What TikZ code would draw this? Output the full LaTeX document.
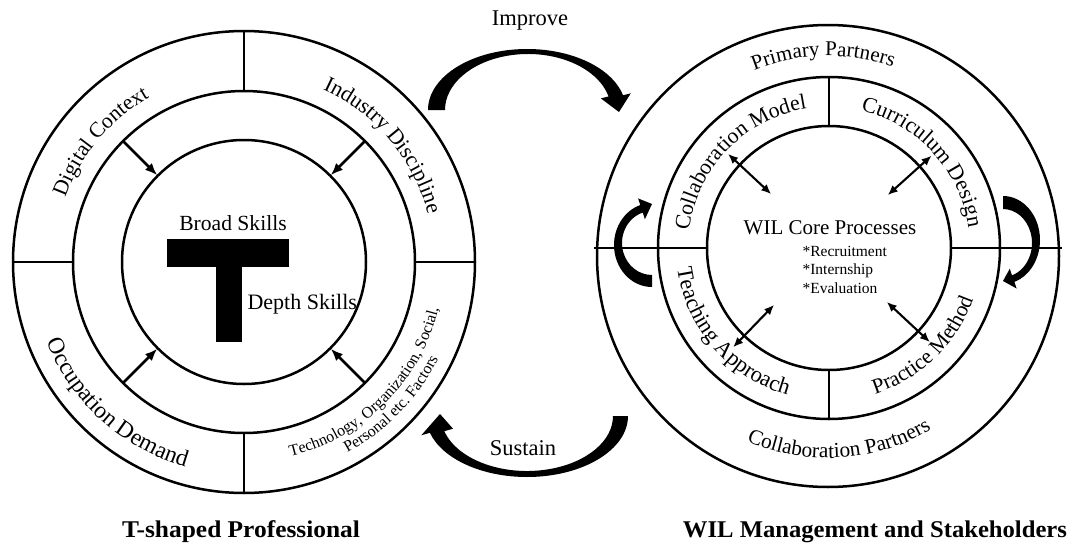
\documentclass[tikz,border=0pt]{standalone}
\usepackage{fontspec}
\setmainfont{Liberation Serif}
\usepackage{graphicx}
\usetikzlibrary{arrows.meta,decorations.text,calc}
\tikzset{
  ring/.style={line width=2.5pt},
  divider/.style={line width=2.3pt},
  inarrow/.style={line width=2.6pt,-{Latex[length=12pt,width=10pt]}},
  duoarrow/.style={line width=2.1pt,{Latex[length=10pt,width=8.5pt]}-{Latex[length=10pt,width=8.5pt]}},
  lbl/.style={font=\fontsize{22}{26}\selectfont},
  small/.style={font=\fontsize{15.5}{18}\selectfont},
  title/.style={font=\fontsize{24}{28}\selectfont\bfseries,anchor=base},
  arctext/.style={decorate,decoration={text along path,text align=center,text={#1}}}
}
\newcommand\crescent[9]{%
  \fill[black] ({#1+#3*cos(#9)},{#2+#4*sin(#9)})
    arc[start angle=#9,end angle=\Tend,x radius=#3,y radius=#4]
    -- ({#1+(#3+\Hov)*cos(\Tend)},{#2+(#4+\Hov)*sin(\Tend)})
    -- (\TipX,\TipY)
    -- ({#5+(#7-\Hov)*cos(\Tend)},{#6+(#8-\Hov)*sin(\Tend)})
    -- ({#5+#7*cos(\Tend)},{#6+#8*sin(\Tend)})
    arc[start angle=\Tend,end angle=#9,x radius=#7,y radius=#8] -- cycle;}
\begin{document}
\begin{tikzpicture}[x=1pt,y=1pt]
\fill[white] (0,0) rectangle (1072,-544);
\useasboundingbox (0,0) rectangle (1072,-544);
\coordinate (L) at (244,-262);
\coordinate (R) at (829,-248);
\coordinate (RO) at (828,-256);

% ---------- left: T-shaped professional ----------
\draw[ring] (L) circle[radius=231];
\draw[ring] (L) circle[radius=171];
\draw[ring] (L) circle[radius=122];
\foreach \a in {0,90,180,270}{
  \coordinate (ld1\a) at ($(L)+(\a:171)$);
  \coordinate (ld2\a) at ($(L)+(\a:231)$);
  \draw[divider] (ld1\a) -- (ld2\a);
}
\foreach \a in {45,135,225,315}{
  \coordinate (ls\a) at ($(L)+(\a:171)$);
  \coordinate (le\a) at ($(L)+(\a:123)$);
  \draw[inarrow] (ls\a) -- (le\a);
}
\fill (167,-239) rectangle (289,-267);
\fill (216,-267) rectangle (242,-342);
\node[font=\fontsize{21.6}{26}\selectfont] (broad) at (233,-223) {Broad Skills};
\node[lbl,anchor=west] (depth) at (244,-304) {Depth Skills};

\path[arctext={|\fontsize{21.6}{26}\selectfont|Digital Context}]
  ($(L)+(190:190)$) arc[start angle=190,end angle=90,radius=190];
\path[arctext={|\fontsize{22}{26}\selectfont|Industry Discipline}]
  ($(L)+(90:190)$) arc[start angle=90,end angle=-10,radius=190];
\path[arctext={|\fontsize{23.5}{26}\selectfont|Occupation Demand}]
  ($(L)+(178:213)$) arc[start angle=178,end angle=278,radius=213];
\path[arctext={|\fontsize{16}{18}\selectfont|Technology, Organization, Social,}]
  ($(L)+(265:200)$) arc[start angle=265,end angle=365,radius=200];
\path[arctext={|\fontsize{16}{18}\selectfont|Personal etc. Factors}]
  ($(L)+(272:217)$) arc[start angle=272,end angle=360,radius=217];

% ---------- right: WIL management ----------
\draw[ring] (RO) circle[radius=231];
\draw[ring] (R) circle[radius=171];
\draw[ring] (R) circle[radius=122];
\coordinate (hl) at (594,-248);
\coordinate (hr) at (1062,-248);
\coordinate (hli) at ($(R)+(180:122)$);
\coordinate (hri) at ($(R)+(0:122)$);
\draw[divider] (hl) -- (hli);
\draw[divider] (hri) -- (hr);
\foreach \a in {90,270}{
  \coordinate (rd1\a) at ($(R)+(\a:122)$);
  \coordinate (rd2\a) at ($(R)+(\a:171)$);
  \draw[divider] (rd1\a) -- (rd2\a);
}
\foreach \a in {137,42,226,317}{
  \coordinate (rs\a) at ($(R)+(\a:79)$);
  \coordinate (re\a) at ($(R)+(\a:138)$);
  \draw[duoarrow] (rs\a) -- (re\a);
}
\node[font=\fontsize{21}{24}\selectfont] (core) at (830,-228) {WIL Core Processes};
\node[small,anchor=base west] (rec) at (799,-256) {*Recruitment};
\node[small,anchor=base west] (int) at (799,-274.5) {*Internship};
\node[small,anchor=base west] (eva) at (799,-293) {*Evaluation};

\path[arctext={|\fontsize{21}{24}\selectfont|Primary Partners}]
  ($(RO)+(136.4:200)$) arc[start angle=136.4,end angle=46.4,radius=200];
\path[arctext={|\fontsize{21.3}{24}\selectfont|Collaboration Partners}]
  ($(RO)+(228.5:202)$) arc[start angle=228.5,end angle=318.5,radius=202];
\path[arctext={|\fontsize{21.8}{24}\selectfont|Collaboration Model}]
  ($(R)+(186:141)$) arc[start angle=186,end angle=86,radius=141];
\path[arctext={|\fontsize{22}{24}\selectfont|Curriculum Design}]
  ($(R)+(92.6:141)$) arc[start angle=92.6,end angle=-7.4,radius=141];
\path[arctext={|\fontsize{22.5}{24}\selectfont|Teaching Approach}]
  ($(R)+(171:153)$) arc[start angle=171,end angle=271,radius=153];
\path[arctext={|\fontsize{21.5}{24}\selectfont|Practice Method}]
  ($(R)+(264:153)$) arc[start angle=264,end angle=364,radius=153];

% ---------- curved arrows ----------
\def\Tend{14}\def\Hov{8}\def\TipX{619}\def\TipY{-112}
\crescent{527}{-110}{99}{61}{528}{-110}{83}{56}{180}
\def\Tend{-164}\def\Hov{9}\def\TipX{440}\def\TipY{-414}
\crescent{527}{-416}{101}{61}{527}{-416}{86}{55}{0}
\def\Tend{108}\def\Hov{7}\def\TipX{652}\def\TipY{-204}
\crescent{652}{-245}{38}{42}{652}{-243}{30}{32}{270}
\def\Tend{-72}\def\Hov{7}\def\TipX{1003}\def\TipY{-281}
\crescent{1003}{-240}{37}{44}{1003}{-243}{29}{34}{90}

\node[font=\fontsize{22.5}{26}\selectfont] (improve) at (530,-21) {Improve};
\node[font=\fontsize{22.5}{26}\selectfont] (sustain) at (523,-448) {Sustain};

% ---------- titles ----------
\node[title] (tsp) at (241,-537) {\resizebox{238pt}{\height}{T-shaped Professional}};
\node[title] (wil) at (875,-537) {\resizebox{384pt}{\height}{WIL Management and Stakeholders}};
\end{tikzpicture}
\end{document}
